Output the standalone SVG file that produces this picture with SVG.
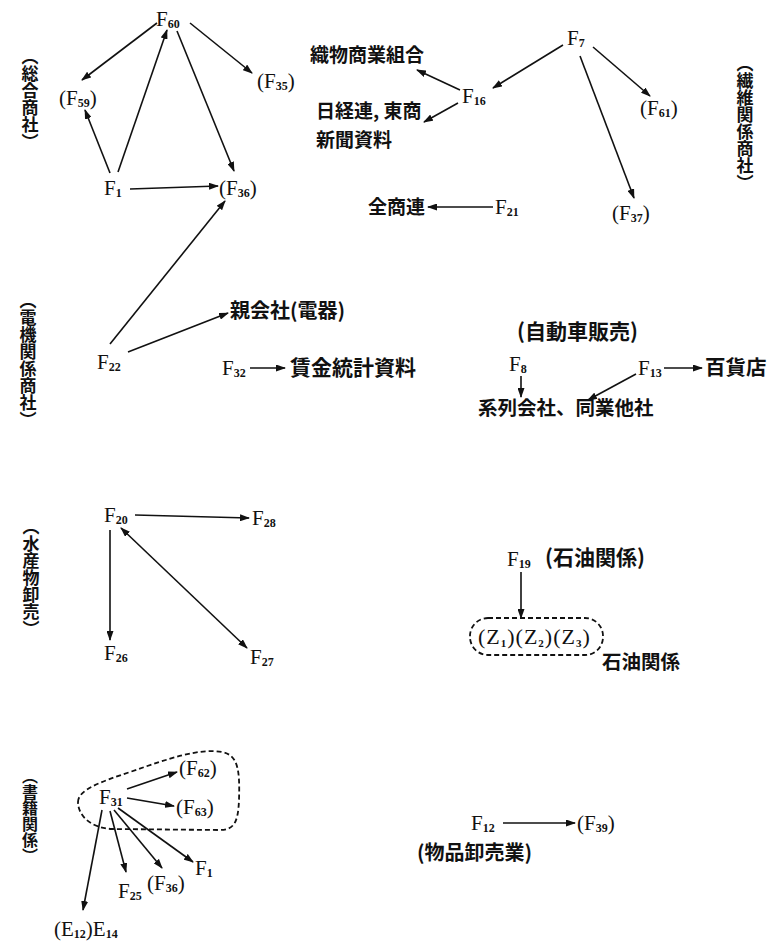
<svg xmlns="http://www.w3.org/2000/svg" width="776" height="945" viewBox="0 0 776 945">
<defs>
<marker id="a" viewBox="0 0 10 7" refX="9" refY="3.5" markerWidth="10" markerHeight="7" markerUnits="userSpaceOnUse" orient="auto-start-reverse">
<path d="M0,0 L10,3.5 L0,7 z" fill="#111"/>
</marker>
<style>
.f{font-family:"Liberation Serif","Times New Roman",serif;font-size:21px;fill:#111}
.s{font-size:12px;font-weight:bold}
.j{font-family:"Noto Sans CJK JP","Noto Sans CJK SC",sans-serif;font-size:19px;font-weight:bold;fill:#111}
.v{font-family:"Noto Sans CJK JP","Noto Sans CJK SC",sans-serif;font-size:17px;font-weight:bold;fill:#111;writing-mode:vertical-rl}
.c line,.c path{stroke:#111;stroke-width:1.6;fill:none}
.c .ar{marker-end:url(#a)}
.c .ar2{marker-end:url(#a);marker-start:url(#a)}
.d{stroke:#111;stroke-width:1.8;stroke-dasharray:5 3;fill:none}
</style>
</defs>
<rect width="776" height="945" fill="#fff"/>

<g id="labels">
<text class="v" x="30" y="48">（総合商社）</text>
<text class="v" x="745" y="55">（繊維関係商社）</text>
<text class="v" x="28" y="292">（電機関係商社）</text>
<text class="v" x="31" y="518">（水産物卸売）</text>
<text class="v" x="30" y="768" style="font-size:16px">（書籍関係）</text>
</g>

<g class="c" id="connectors">
<line class="ar" x1="157" y1="23" x2="82" y2="80"/>
<line class="ar" x1="110" y1="173" x2="85" y2="110"/>
<line class="ar" x1="118" y1="172" x2="167" y2="30"/>
<line class="ar" x1="177" y1="31" x2="234" y2="171"/>
<line class="ar" x1="190" y1="23" x2="252" y2="73"/>
<line class="ar" x1="130" y1="189" x2="218" y2="186"/>
<line class="ar" x1="110" y1="344" x2="225" y2="201"/>
<line class="ar" x1="128" y1="352" x2="228" y2="313"/>
<line class="ar" x1="460" y1="90" x2="417" y2="70"/>
<line class="ar" x1="458" y1="103" x2="424" y2="122"/>
<line class="ar" x1="563" y1="45" x2="493" y2="88"/>
<line class="ar" x1="593" y1="47" x2="650" y2="96"/>
<line class="ar" x1="580" y1="56" x2="634" y2="198"/>
<line class="ar" x1="493" y1="207" x2="428" y2="207"/>
<line class="ar" x1="250" y1="368" x2="285" y2="368"/>
<line class="ar" x1="521" y1="376" x2="521" y2="397"/>
<line class="ar" x1="636" y1="374" x2="588" y2="400"/>
<line class="ar" x1="664" y1="368" x2="702" y2="368"/>
<line class="ar" x1="135" y1="515" x2="249" y2="518"/>
<line class="ar" x1="110" y1="530" x2="110" y2="640"/>
<line class="ar2" x1="121" y1="528" x2="247" y2="648"/>
<line class="ar" x1="521" y1="572" x2="521" y2="618"/>
<line class="ar" x1="127" y1="789" x2="177" y2="772"/>
<line class="ar" x1="127" y1="798" x2="174" y2="806"/>
<line class="ar" x1="118" y1="808" x2="193" y2="862"/>
<line class="ar" x1="114" y1="810" x2="162" y2="868"/>
<line class="ar" x1="110" y1="811" x2="126" y2="872"/>
<line class="ar" x1="102" y1="810" x2="83" y2="910"/>
<line class="ar" x1="503" y1="823" x2="575" y2="823"/>
</g>

<g id="groups">
<rect class="d" x="470" y="618" width="133" height="37" rx="18"/>
<path class="d" d="M78,802 C78,790 100,782 130,772 C170,758 200,748 222,752 C238,755 240,770 239,800 C238,825 233,830 218,830 L112,829 C90,828 78,815 78,802 Z"/>
</g>

<g id="n-F60"><text class="f" x="156" y="26">F<tspan class="s" dy="2">60</tspan></text></g>
<g id="n-F59"><text class="f" x="59" y="105">(F<tspan class="s" dy="2">59</tspan><tspan dy="-2">)</tspan></text></g>
<g id="n-F35"><text class="f" x="257" y="88">(F<tspan class="s" dy="2">35</tspan><tspan dy="-2">)</tspan></text></g>
<g id="n-F1"><text class="f" x="104" y="195">F<tspan class="s" dy="2">1</tspan></text></g>
<g id="n-F36"><text class="f" x="219" y="195">(F<tspan class="s" dy="2">36</tspan><tspan dy="-2">)</tspan></text></g>

<g id="n-F16"><text class="f" x="462" y="103">F<tspan class="s" dy="2">16</tspan></text></g>
<g id="n-F7"><text class="f" x="567" y="45">F<tspan class="s" dy="2">7</tspan></text></g>
<g id="n-F61"><text class="f" x="640" y="115">(F<tspan class="s" dy="2">61</tspan><tspan dy="-2">)</tspan></text></g>
<g id="n-F37"><text class="f" x="612" y="220">(F<tspan class="s" dy="2">37</tspan><tspan dy="-2">)</tspan></text></g>
<g id="n-F21"><text class="f" x="495" y="214">F<tspan class="s" dy="2">21</tspan></text></g>
<g id="n-orimono"><text class="j" x="310" y="62">織物商業組合</text></g>
<g id="n-nikkeiren"><text class="j" x="316" y="118">日経連, 東商</text><text class="j" x="316" y="147">新聞資料</text></g>
<g id="n-zenshoren"><text class="j" x="368" y="214">全商連</text></g>

<g id="n-F22"><text class="f" x="97" y="369">F<tspan class="s" dy="2">22</tspan></text></g>
<g id="n-oya"><text class="j" x="230" y="318" style="font-size:20px">親会社(電器)</text></g>
<g id="n-F32"><text class="f" x="222" y="375">F<tspan class="s" dy="2">32</tspan></text></g>
<g id="n-chingin"><text class="j" x="290" y="375" style="font-size:21px">賃金統計資料</text></g>

<g id="n-jidosha"><text class="j" x="517" y="339" style="font-size:21px">(自動車販売)</text></g>
<g id="n-F8"><text class="f" x="509" y="371">F<tspan class="s" dy="2">8</tspan></text></g>
<g id="n-keiretsu"><text class="j" x="478" y="415" style="font-size:19.5px">系列会社、同業他社</text></g>
<g id="n-F13"><text class="f" x="638" y="375">F<tspan class="s" dy="2">13</tspan></text></g>
<g id="n-hyakkaten"><text class="j" x="705" y="375" style="font-size:20.5px">百貨店</text></g>

<g id="n-F20"><text class="f" x="104" y="522">F<tspan class="s" dy="2">20</tspan></text></g>
<g id="n-F28"><text class="f" x="252" y="525">F<tspan class="s" dy="2">28</tspan></text></g>
<g id="n-F26"><text class="f" x="104" y="660">F<tspan class="s" dy="2">26</tspan></text></g>
<g id="n-F27"><text class="f" x="250" y="664">F<tspan class="s" dy="2">27</tspan></text></g>

<g id="n-F19"><text class="f" x="507" y="566">F<tspan class="s" dy="2">19</tspan></text></g>
<g id="n-sekiyu1"><text class="j" x="545" y="565" style="font-size:21px">(石油関係)</text></g>
<g id="n-Z"><text class="f" x="478" y="644" style="font-size:22px;letter-spacing:1px">(Z<tspan class="s" dy="3" style="font-size:11px">1</tspan><tspan dy="-3">)(Z</tspan><tspan class="s" dy="3" style="font-size:11px">2</tspan><tspan dy="-3">)(Z</tspan><tspan class="s" dy="3" style="font-size:11px">3</tspan><tspan dy="-3">)</tspan></text></g>
<g id="n-sekiyu2"><text class="j" x="602" y="669" style="font-size:19.5px">石油関係</text></g>

<g id="n-F31"><text class="f" x="99" y="804">F<tspan class="s" dy="2">31</tspan></text></g>
<g id="n-F62"><text class="f" x="179" y="775">(F<tspan class="s" dy="2">62</tspan><tspan dy="-2">)</tspan></text></g>
<g id="n-F63"><text class="f" x="176" y="814">(F<tspan class="s" dy="2">63</tspan><tspan dy="-2">)</tspan></text></g>
<g id="n-F1b"><text class="f" x="195" y="875">F<tspan class="s" dy="2">1</tspan></text></g>
<g id="n-F36b"><text class="f" x="147" y="890">(F<tspan class="s" dy="2">36</tspan><tspan dy="-2">)</tspan></text></g>
<g id="n-F25"><text class="f" x="118" y="898">F<tspan class="s" dy="2">25</tspan></text></g>
<g id="n-E"><text class="f" x="54" y="936">(E<tspan class="s" dy="2">12</tspan><tspan dy="-2">)E</tspan><tspan class="s" dy="2">14</tspan></text></g>

<g id="n-F12"><text class="f" x="471" y="830">F<tspan class="s" dy="2">12</tspan></text></g>
<g id="n-F39"><text class="f" x="577" y="830">(F<tspan class="s" dy="2">39</tspan><tspan dy="-2">)</tspan></text></g>
<g id="n-buppin"><text class="j" x="417" y="860" style="font-size:20px">(物品卸売業)</text></g>
</svg>
